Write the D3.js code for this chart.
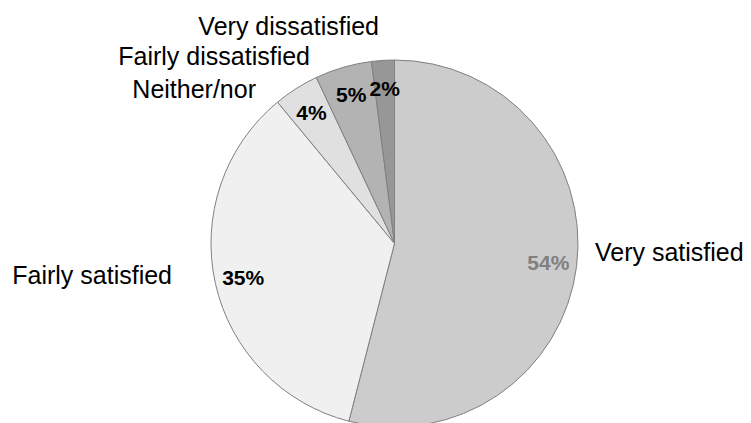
<!DOCTYPE html>
<html>
<head>
<meta charset="utf-8">
<script src="https://cdn.jsdelivr.net/npm/d3@7"></script>
<style>
  html, body { margin: 0; padding: 0; background: #ffffff; }
  svg { display: block; }
  text { font-family: "Liberation Sans", Arial, sans-serif; }
</style>
</head>
<body>
<svg id="chart" width="751" height="423"></svg>
<script>
// Survey responses, drawn clockwise from 12 o'clock
const categories = ["Very satisfied", "Fairly satisfied", "Neither/nor", "Fairly dissatisfied", "Very dissatisfied"];
const shares = [54, 35, 4, 5, 2];
const percentLabels = ["54%", "35%", "4%", "5%", "2%"];

// Presentation
const sliceColors = ["#cccccc", "#f0f0f0", "#e0e0e0", "#b3b3b3", "#979797"];
const percentColors = ["#808080", "#000000", "#000000", "#000000", "#000000"];
// Category label anchors, offsets from the pie centre
const nameLayout = [
  { dx: 200.5, dy: 17.5, anchor: "start" },
  { dx: -222.5, dy: 40.5, anchor: "end" },
  { dx: -138.5, dy: -145.5, anchor: "end" },
  { dx: -84.5, dy: -178.5, anchor: "end" },
  { dx: -15.5, dy: -208.5, anchor: "end" }
];

const width = 751, height = 423;
const cx = 394.5, cy = 243.5, radius = 183.5;

const svg = d3.select("#chart");
const g = svg.append("g").attr("transform", `translate(${cx},${cy})`);

const pie = d3.pie().sort(null).value(d => d.value).startAngle(0).endAngle(2 * Math.PI);
const data = categories.map((c, i) => ({ name: c, value: shares[i], label: percentLabels[i], i }));
const arcs = pie(data);

const arc = d3.arc().innerRadius(0).outerRadius(radius);
const labelArc = d3.arc().innerRadius(radius * 0.845).outerRadius(radius * 0.845);

g.selectAll("path.slice")
  .data(arcs)
  .join("path")
  .attr("class", "slice")
  .attr("d", arc)
  .attr("fill", d => sliceColors[d.data.i])
  .attr("stroke", "#808080")
  .attr("stroke-width", 1)
  .attr("stroke-linejoin", "round");

g.selectAll("text.pct")
  .data(arcs)
  .join("text")
  .attr("class", "pct")
  .attr("transform", d => `translate(${labelArc.centroid(d)})`)
  .attr("text-anchor", "middle")
  .attr("dy", "0.36em")
  .attr("font-size", 21)
  .attr("font-weight", "bold")
  .attr("fill", d => percentColors[d.data.i])
  .text(d => d.data.label);

g.selectAll("text.name")
  .data(arcs)
  .join("text")
  .attr("class", "name")
  .attr("x", d => nameLayout[d.data.i].dx)
  .attr("y", d => nameLayout[d.data.i].dy)
  .attr("text-anchor", d => nameLayout[d.data.i].anchor)
  .attr("font-size", 25)
  .attr("fill", "#000000")
  .text(d => d.data.name);
</script>
</body>
</html>
